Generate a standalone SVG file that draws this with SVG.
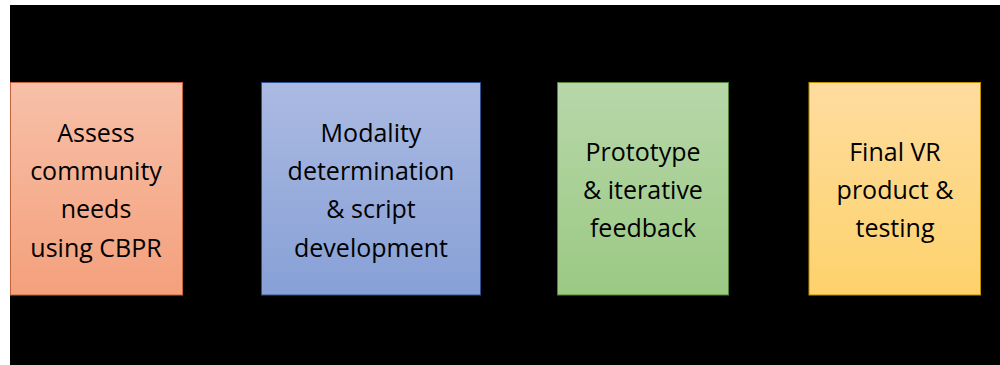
<svg xmlns="http://www.w3.org/2000/svg" width="1000" height="365" viewBox="0 0 1000 365">
<defs>
<linearGradient id="g1" x1="0" y1="0" x2="0" y2="1"><stop offset="0" stop-color="#f7c0a8"/><stop offset="1" stop-color="#f4a07c"/></linearGradient>
<linearGradient id="g2" x1="0" y1="0" x2="0" y2="1"><stop offset="0" stop-color="#abbae2"/><stop offset="1" stop-color="#87a0d6"/></linearGradient>
<linearGradient id="g3" x1="0" y1="0" x2="0" y2="1"><stop offset="0" stop-color="#b7d7a9"/><stop offset="1" stop-color="#9bc983"/></linearGradient>
<linearGradient id="g4" x1="0" y1="0" x2="0" y2="1"><stop offset="0" stop-color="#fedc9e"/><stop offset="1" stop-color="#fdd26c"/></linearGradient>
<marker id="arr" markerWidth="8" markerHeight="8" refX="7" refY="4" orient="auto"><path d="M0,0 L8,4 L0,8 z" fill="#000"/></marker>
</defs>
<style>
.t{font-family:"Open Sans","Liberation Sans",sans-serif;font-size:25px;fill:#000;text-anchor:middle}
.c{stroke:#000;stroke-width:2;fill:none}
</style>
<rect x="0" y="0" width="1000" height="365" fill="#fff"/>
<rect x="10" y="5" width="990" height="360" fill="#000"/>
<g id="connectors">
<line class="c" x1="183" y1="188" x2="260" y2="188" marker-end="url(#arr)"/>
<line class="c" x1="481" y1="188" x2="556" y2="188" marker-end="url(#arr)"/>
<line class="c" x1="729" y1="188" x2="808" y2="188" marker-end="url(#arr)"/>
</g>
<g id="node1">
<rect x="10.5" y="82.5" width="172" height="212.5" fill="url(#g1)" stroke="#c4643c" stroke-width="1"/>
<text class="t" x="96" y="142">Assess</text>
<text class="t" x="96" y="180">community</text>
<text class="t" x="96" y="218">needs</text>
<text class="t" x="96" y="257">using CBPR</text>
</g>
<g id="node2">
<rect x="261.5" y="82.5" width="219" height="212.5" fill="url(#g2)" stroke="#2f528f" stroke-width="1"/>
<text class="t" x="371" y="142">Modality</text>
<text class="t" x="371" y="180">determination</text>
<text class="t" x="371" y="218">&amp; script</text>
<text class="t" x="371" y="257">development</text>
</g>
<g id="node3">
<rect x="557.5" y="82.5" width="171" height="212.5" fill="url(#g3)" stroke="#538135" stroke-width="1"/>
<text class="t" x="643" y="161">Prototype</text>
<text class="t" x="643" y="199">&amp; iterative</text>
<text class="t" x="643" y="237">feedback</text>
</g>
<g id="node4">
<rect x="809" y="82.5" width="171.5" height="212.5" fill="url(#g4)" stroke="#bf9000" stroke-width="1"/>
<text class="t" x="895" y="161">Final VR</text>
<text class="t" x="895" y="199">product &amp;</text>
<text class="t" x="895" y="237">testing</text>
</g>
</svg>
